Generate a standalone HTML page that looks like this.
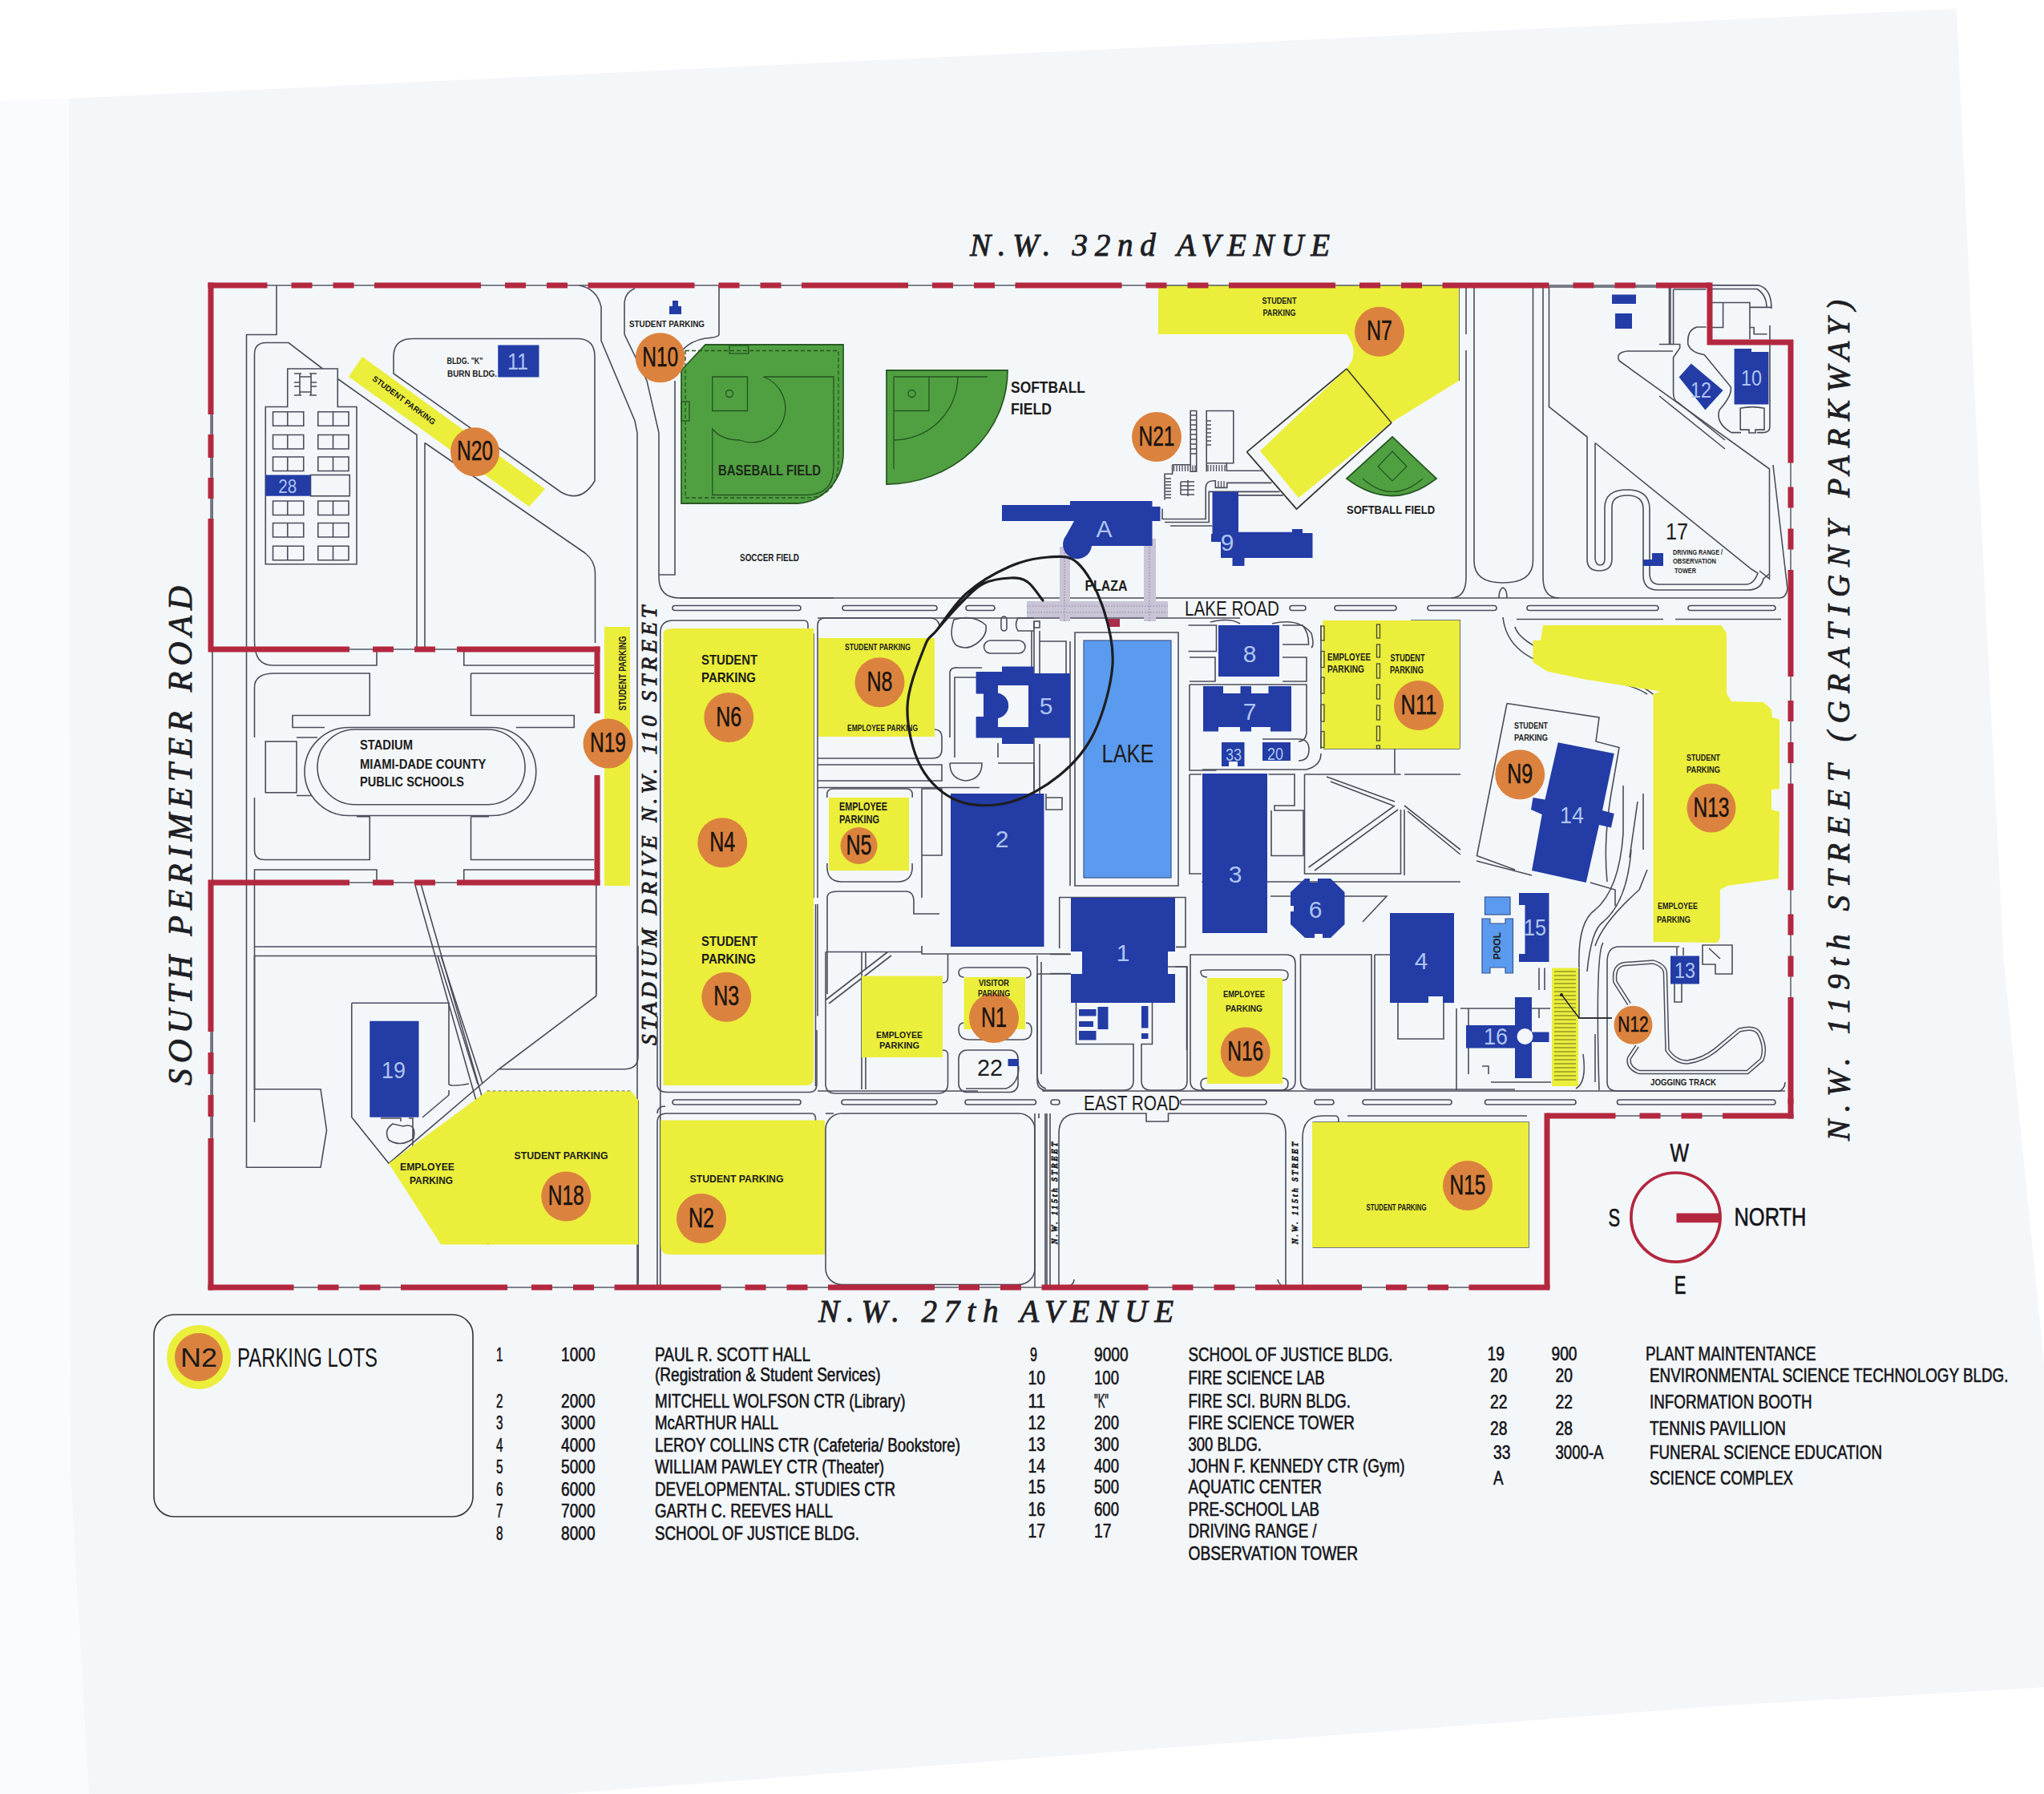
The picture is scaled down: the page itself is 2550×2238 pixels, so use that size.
<!DOCTYPE html>
<html><head><meta charset="utf-8"><style>
html,body{margin:0;padding:0;background:#ffffff;}
svg{display:block;}
text{font-family:"Liberation Sans",sans-serif;}
.ser{font-family:"Liberation Serif",serif;font-weight:normal;font-style:italic;fill:#1e1e24;stroke:#1e1e24;stroke-width:0.9;}
.rd{fill:none;stroke:#4a4d5a;stroke-width:1.6;}
.y{fill:#ebee3a;}
.b{fill:#233ca6;}
.lb{fill:#5b9bef;stroke:#3a5590;stroke-width:1.2;}
.o{fill:#db833e;}
.g{fill:#50a042;stroke:#2a5a25;stroke-width:1.8;}
.bn{fill:#aec4f0;font-size:30px;}
.nl{font-size:32px;fill:#1a1a1a;}
.sm{font-size:11px;font-weight:bold;fill:#2a2a20;}
.lg{font-size:25px;fill:#141418;}
.red{stroke:#b3283f;fill:none;}
</style></head><body>
<svg width="2550" height="2238" viewBox="0 0 2550 2238" xmlns="http://www.w3.org/2000/svg">

<polygon points="0,127 2441,11 2459,400 2500,1200 2550,1700 2550,2105 2150,2128 700,2238 0,2238" fill="#f4f7fa"/>
<polygon points="0,127 86,123 88,1838 111,2238 0,2238" fill="#f9fbfc"/>
<g class="rd">
<path d="M345,356 V417.5 H307.5 V1101"/>
<path d="M317.5,797 V442 Q317.5,427.5 332,427.5 H360 L402.5,460"/>
<path d="M358.75,507.5 V460 H421.25 V507.5 H445 V703.75 H331.25 V507.5 Z"/>
<path d="M421.25,472.5 L520,542.5 V810"/>
<path d="M530,552.5 V810"/>
<path d="M530,552.5 L730,690 Q742.5,700 742.5,715 V802"/>
<path d="M491,466 L700,614 Q725,628 742,600 V445 Q742,422.5 720,422.5 H515 Q491,422.5 491,445 Z"/>
<path d="M722,356 Q745,360 750,383 V425 L792,525 L795,540 V1606"/>
<path d="M792,360 Q779,365 779,380 V417 L807,475 L822,540 V720 Q822,746 848,746 H1040"/>
<path d="M842,475 V717 H822"/>
<path d="M897,356 V417 Q897,421 880,422 Q862,425 851,437"/>
</g>
<path class="rd" stroke-width="1.5" d="M340.5,513.75H378.75V531.25H340.5Z M358.75,513.75V531.25 M396.75,513.75H435V531.25H396.75Z M415.5,513.75V531.25 M340.5,542.5H378.75V560H340.5Z M358.75,542.5V560 M396.75,542.5H435V560H396.75Z M415.5,542.5V560 M340.5,570H378.75V587.5H340.5Z M358.75,570V587.5 M396.75,570H435V587.5H396.75Z M415.5,570V587.5 M340.5,625H378.75V642.5H340.5Z M358.75,625V642.5 M396.75,625H435V642.5H396.75Z M415.5,625V642.5 M340.5,652.5H378.75V670H340.5Z M358.75,652.5V670 M396.75,652.5H435V670H396.75Z M415.5,652.5V670 M340.5,681.25H378.75V698.75H340.5Z M358.75,681.25V698.75 M396.75,681.25H435V698.75H396.75Z M415.5,681.25V698.75"/>
<rect class="rd" x="387.5" y="592.5" width="48.75" height="26.25"/>
<path class="rd" stroke-width="1.4" d="M367,466 H376 M386,466 H395 M374,466 V493 M388,466 V493 M374,470 H388 M374,489 H388 M367,493 H376 M386,493 H395 M367,477 H374 M367,482 H374 M388,477 H395 M388,482 H395"/>
<g class="rd">
<path d="M848,746 H2220"/>
<path d="M1020,771 H1547"/>
<rect x="839" y="755.5" width="160" height="6" rx="3"/>
<rect x="1051" y="755.5" width="118" height="6" rx="3"/>
<rect x="1205" y="755.5" width="36" height="6" rx="3"/>
<rect x="1609" y="755.5" width="20" height="6" rx="3"/>
<rect x="1665" y="755.5" width="77" height="6" rx="3"/>
<rect x="1781" y="755.5" width="86" height="6" rx="3"/>
<rect x="1905" y="755.5" width="164" height="6" rx="3"/>
<rect x="2106" y="755.5" width="109" height="6" rx="3"/>
<path d="M823.75,1606 V790 Q823.75,774 840,774 H1003 Q1008,774 1008,780 V790"/>
<path d="M1015,790 V1120 M1017.5,1128 V1355"/>
<path d="M1020,1120 V780 Q1020,771 1030,771 H1160 Q1170,771 1172,780"/>
<path d="M1020,946 H1163 Q1175,946 1175,935 V920 Q1175,910 1166,910"/>
<path d="M1020,954 H1175 V974 H1020"/>
<path d="M1020,982.5 H1222"/>
<path d="M1032,995 Q1030,984 1040,984 H1130 Q1140,984 1138,995"/>
<path d="M1032,1077 Q1030,1100 1050,1100 H1120 Q1140,1100 1138,1077"/>
<path d="M1032,1240 V1120 Q1032,1112 1045,1112 H1130 Q1140,1112 1140,1125 V1140 H1172"/>
<path d="M1150,1120 V984 H1175 V1067 H1150"/>
<path d="M1190,773 Q1215,766 1230,780 Q1232,793 1218,803 Q1205,812 1193,805 Q1183,795 1190,773 Z"/>
<rect x="1249" y="769" width="7" height="18" rx="3.5"/>
<rect x="1227.5" y="799" width="51.5" height="16" rx="8"/>
<path d="M1290,771 H1270 Q1265,779 1270,787 H1290"/>
<rect x="1290" y="775" width="7" height="8"/>
<path d="M1185,920 V840 Q1185,832 1195,833 H1225"/>
<path d="M1191,945 V845 H1222"/>
<path d="M1185,952 H1225 Q1225,972 1205,974 Q1185,972 1185,952"/>
<path d="M1245,945 V927 M1245,952 H1290 V985"/>
<path d="M1287,787 V845 M1297,787 V845 M1290,775 V1005 M1297,928 V1010 M1305,990 V1010 H1325 V995 H1305"/>
<path d="M1297,800 H1330 V840 M1335,800 V1105"/>
<path d="M1341,789 H1470 V1105 H1341 Z"/>
<path d="M1321.7,1183 V1119.5 H1479 V1181.4 H1467 M1310,1190.5 H1336 M1310,1214.5 H1336 M1457,1206 H1480.5 V1310"/>
<path d="M1482.5,780 H1517.5 V812.5 H1482.5 M1484,820 H1516 V850 H1484 M1600,780 H1625 Q1633,790 1632.5,804 H1600 M1600,820 H1630 V850 H1600"/>
<path d="M1484,854 H1630 V915 Q1628,925 1620,925 M1484,854 V961 H1517.5"/>
<path d="M1575,922 H1620 Q1633,922 1633,935 Q1633,949 1620,949"/>
<path d="M1484,966 H1499 M1484,966 V1090 H1499 M1582.5,966 H1615 V1005 H1590 V1011 H1626 V1067.5 H1586 V1011"/>
<path d="M1510,776 Q1535,770 1547,778 M1587,778 Q1620,770 1636,790 Q1640,805 1636,808"/>
<path d="M1648,780 V934 M1648,940 Q1648,955 1630,960 H1500"/>
<path d="M1651,934 H1821 M1821,774 V934 M1740,934 V965 M1760,774 H1822"/>
<path d="M1627.5,966 V1090 H1747.5 V1010 M1627.5,966 H1747.5 M1752,966 H1822"/>
<path d="M1655,969 L1740,1000 M1660,975 L1738,1005 M1632.5,1082 L1740,1005 M1640,1086 L1744,1010"/>
<path d="M1752,1010 V1092 M1752,1005 L1822,1060 M1756,1012 L1822,1066"/>
<path d="M1499,1100 H1822 M1585,1118 H1730 L1700,1150"/>
</g>
<g fill="#c9c4d6">
<rect x="1281" y="750" width="176" height="20"/>
<rect x="1322" y="682" width="13" height="93"/>
<rect x="1427" y="672" width="15" height="103"/>
</g>
<path stroke="#8d88a8" stroke-width="1.2" stroke-dasharray="1.5,2" fill="none" d="M1281,756 H1457 M1281,764 H1457 M1328,682 V775 M1434,672 V775"/>
<rect x="1382" y="772" width="15" height="10" fill="#a8304a"/>
<g class="rd">
<path d="M265,356 V1606"/>
<path d="M317.5,797 V800 Q317.5,830 340,830 H470 V810 M578.75,810 V830 H741"/>
<path d="M317.5,920 V857.5 Q317.5,840 342.5,840 H461.25 V892.5 H365 V907.5 H405"/>
<path d="M587.5,840 H741 M587.5,840 V892.5 H716.25 V907.5 H643.75"/>
<rect x="380" y="907.5" width="288.75" height="110" rx="55"/>
<rect x="396" y="910" width="259" height="93.75" rx="46.875"/>
<path d="M317.5,995 V1060 Q317.5,1072.5 330,1072.5 H461.25 V1018.75 H445 M587.5,1018.75 V1072.5 H741 M587.5,1018.75 H610"/>
<rect x="331.25" y="925" width="38.75" height="63.75"/>
<path d="M370,920 H396 M370,992.5 H389"/>
<path d="M317.5,1101 V1085 H470 V1101 M578.75,1101 V1085 H741"/>
<path d="M317.5,1101 V1400 M317.5,1181 H743 M317.5,1192.5 H743 M743.75,1101 V1240"/>
<path d="M517.5,1102.5 L596,1380 M525,1102.5 L604,1378"/>
</g>
<g class="rd">
<path d="M307.5,1101 V1456.25 H400 L407.5,1410 L400,1358.75 H317.5 V1192.5"/>
<path d="M546,1192 L596,1352.5 M550,1192 L602,1352"/>
<path d="M743.75,1192 V1242.5 L622.5,1333.75 H780 Q796,1333 796,1318 V1180"/>
<path d="M438.75,1251.25 H560 V1352.5 Q562,1356 585,1352 M438.75,1251.25 V1393.75 L485,1451.25 L622.5,1333.75"/>
<path d="M527,1394 L560,1366 V1360 M503,1405 Q520,1400 516,1420 Q500,1432 485,1422 Q478,1410 490,1402 Z M475,1395 H500 V1399 M510,1395 H515 V1430"/>
<path d="M796.25,1372.5 V1600 Q796,1606 790,1606 M820,1389 Q820,1380 830,1380"/>
<path stroke-dasharray="4,3" d="M607.5,1361.25 H787.5"/>
<path d="M608.75,1361.25 V1552.5"/>
<path d="M820,1267.5 V1352 Q820,1362.5 832,1362.5 H1010 Q1019,1362.5 1019,1352 V1285 M1020,1267.5 V1128"/>
<path d="M820,1606 V1400 Q820,1389 832,1389 H1012 Q1017,1389 1017.5,1395 V1400 Q1015,1406 1012,1406 M820,1468 V1482"/>
<rect x="1030" y="1389" width="261" height="213.5" rx="20"/>
<path d="M1291,1389 V1606 M1296,1389 V1395 M1306,1389 V1606"/>
<path d="M1030,1187.5 H1150 M1030,1187.5 V1352 Q1030,1364 1042,1364 H1170 Q1182.5,1364 1182.5,1352 V1315 Q1182,1310 1176,1310 M1075,1187.5 V1359 M1080,1187.5 V1210 M1080,1319 V1359 M1030,1247.5 L1107.5,1187.5 M1034,1252 L1112,1192 M1182.5,1190 V1220 Q1182,1226 1176,1226 M1150,1180 V1190 H1335"/>
<path d="M1202.5,1219 Q1196,1219 1196,1213 Q1196,1207 1206,1207 H1277 Q1286,1207 1286,1215 Q1286,1219 1280,1220"/>
<path d="M1202.5,1276 Q1196,1276 1196,1284 Q1196,1297 1210,1297 H1275 Q1287,1297 1287,1285 Q1287,1276 1280,1276"/>
<rect x="1196" y="1310" width="74" height="52.5" rx="10"/>
<path d="M1271,1330 Q1271,1352 1255,1358 H1205"/>
<path d="M1294,1192 V1340 Q1294,1355 1305,1358 M1299,1200 V1340"/>
</g>
<g class="rd">
<path d="M1020,1361 H1220 M1300,1361 H2227"/>
<path d="M1040,1389 H1030"/>
<rect x="839" y="1372" width="160" height="6" rx="3"/>
<rect x="1050" y="1372" width="119" height="6" rx="3"/>
<rect x="1204" y="1372" width="88.5" height="6" rx="3"/>
<rect x="1311" y="1372" width="11" height="6" rx="3"/>
<rect x="1472.5" y="1372" width="107.5" height="6" rx="3"/>
<rect x="1640" y="1372" width="24" height="6" rx="3"/>
<rect x="1700" y="1372" width="111" height="6" rx="3"/>
<rect x="1852.5" y="1372" width="113.5" height="6" rx="3"/>
<rect x="2017.5" y="1372" width="197.5" height="6" rx="3"/>
<path d="M1294,1215 V1348 Q1294,1360 1306,1360 H1402 Q1414,1360 1414,1348 V1302.5 H1342.5 V1251 M1437.5,1251 V1302.5 H1424 V1348 Q1424,1360 1436,1360 H1470 Q1481,1360 1481,1348 V1206 H1466"/>
<path d="M1294,1215 H1336"/>
<path d="M1485,1191 H1605 Q1616,1191 1616,1202 V1348 Q1616,1360 1604,1360 H1497 Q1485,1360 1485,1348 Z"/>
<path d="M1506,1219 Q1498,1219 1498,1212 Q1498,1210 1506,1210 H1598 Q1607,1210 1607,1216 Q1607,1223 1600,1223"/>
<path d="M1506,1345 Q1498,1345 1498,1352 Q1498,1360 1506,1360 H1598 Q1607,1360 1607,1352 Q1607,1345 1600,1345"/>
<path d="M1622.5,1191 H1711 V1359 H1634 Q1622.5,1359 1622.5,1347 Z M1715,1191 H1734 M1715,1191 V1359 H1890"/>
<path d="M1744,1251 V1296 H1801 V1251"/>
<path d="M1321,1605 V1414 Q1321,1389 1346,1389 H1430 V1399 H1457.5 V1389 H1579 Q1604,1389 1604,1414 V1605"/>
<path d="M1304,1389 V1606 M1310,1389 V1606 M1625,1605 V1420 Q1625,1392 1650,1392 H1665 Q1670,1392 1670,1397 Q1670,1402 1665,1402 M1681,1392 H1905 M1340,1596 Q1340,1603 1330,1606 M1594,1596 Q1595,1603 1604,1606"/>
<path d="M1637.5,1400 H1907 V1556 H1637.5"/>
</g>
<text class="ser" transform="translate(1319,1552) rotate(-90)" font-size="10" textLength="127" lengthAdjust="spacing">N.W. 115th STREET</text>
<text class="ser" transform="translate(1619,1552) rotate(-90)" font-size="10" textLength="127" lengthAdjust="spacing">N.W. 115th STREET</text>
<g class="rd">
<path d="M1817,1258 V1360 M1822,1258 H1934 M1832,1258 V1340 M1920,1270 V1258 M1849,1330 H1857 V1340 M1860,1350 H1935"/>
<path d="M1920,1207.5 V1235 M1927,1207.5 V1235 M1970,1207.5 V1270 H2011"/>
<path d="M1975,1315 Q1980,1350 1966,1358 M1990,1290 V1350"/>
<path d="M2005,1200 Q2005,1181 2020,1181 H2095 M2005,1200 V1350 Q2005,1361 2018,1361 H2220 Q2227,1358 2227,1350"/>
<path d="M2000,1176 Q1990,1190 1995,1360"/>
<path d="M2124,1179 H2161 V1215 H2140 V1203 H2124 Z M2132,1183 L2146,1196"/>
<path d="M2089,1227 V1250 H2098 V1227 M2092,1182 V1192 M2100,1182 V1192"/>
</g>
<path fill="none" stroke="#4a4d5a" stroke-width="5.5" d="M2032.5,1252.5 L2015,1225 Q2012,1204 2027.5,1202.5 L2062.5,1200 Q2078,1205 2077.5,1215 L2080,1310 Q2090,1325 2105,1325 Q2125,1322 2140,1310 L2170,1285 Q2190,1280 2195,1290 Q2204,1308 2198,1322 L2180,1337.5 H2045 Q2030,1332 2032.5,1320 L2042.5,1305"/>
<path fill="none" stroke="#f2f6fa" stroke-width="2.5" d="M2032.5,1252.5 L2015,1225 Q2012,1204 2027.5,1202.5 L2062.5,1200 Q2078,1205 2077.5,1215 L2080,1310 Q2090,1325 2105,1325 Q2125,1322 2140,1310 L2170,1285 Q2190,1280 2195,1290 Q2204,1308 2198,1322 L2180,1337.5 H2045 Q2030,1332 2032.5,1320 L2042.5,1305"/>
<g class="rd">
<path d="M1970,1207 Q1968,1150 1990,1135 Q2020,1110 2025,1040 V980 M1980,1212 Q1985,1160 2000,1150 Q2030,1125 2035,1060 M1990,1180 Q2000,1150 2045,1110 L2055,1085"/>
<path d="M2062.5,866 Q2040,850 2020,838 L1940,818 Q1895,800 1890,782 M2055,866 Q2040,855 1975,840 L1935,830 Q1880,815 1875,770 M2050,990 V1060 M2043,1000 L2033,1070"/>
<path d="M1880,877.5 L1995,895 L1991,925 L2020,932.5 L2010,990 Q2000,1050 2005,1100 M1880,877.5 L1842.5,1067.5 L1890,1085 M1842,1074 L1911,1092 M1984,1101 L2015,1110 V1130"/>
</g>
<g class="rd">
<path d="M1829,356 V417 M1829,437 V720 Q1829,746 1810,746 M1839,358 V700 Q1839,727 1875,727 Q1912,727 1912.5,700 V358 M1925,358 V720 Q1925,746 1945,746"/>
<path d="M1870,746 Q1870,735 1875,733 Q1880,735 1880,746"/>
<path d="M1932.5,358 H2082.5 V430 M1932.5,358 V507.5 L1980,545 V697.5 Q1980,712 1995,712 Q2011,712 2011,697 V632.5 Q2011,618 2030,618 Q2050,618 2050,635 V717.5 Q2050,736 2068,736 H2180 Q2197,736 2200,722 L2207,716"/>
<path d="M1990,552.5 V697 Q1991,705 1996,705 Q2002,705 2002,697 V632 Q2003,611 2030,611 Q2058,611 2058,635 V715 Q2058,729 2070,729 H2178 Q2188,729 2193,715 L2185,710 L1990,552.5"/>
<path d="M2020,450 Q2015,440 2030,438 H2087 M2020,450 L2207.5,585 V722 L2195,712"/>
<path d="M2212,580 L2230,735 Q2228,746 2220,746"/>
<path d="M2084,358 V429.5 M2087.6,361 V429.5 M2087.6,361 H2128.5 M2135.5,355.9 H2194 Q2210,360 2210,385 M2135.5,360.5 H2192 Q2204,368 2204,384 M2135.5,377.5 H2183 V383.4 H2209.3 M2149.6,377.5 V408.5 H2135.5 M2183,383.4 V423 M2183,408.5 H2188.2 V416.7 H2204.6 M2208,406 V532 Q2208,539.6 2200,539.6 H2192 M2128.5,408 H2116.8 Q2104,412 2106,430 Q2110,440 2126.2,442.5 L2159,482.3 Q2162,492 2145,511.5 Q2140,528 2160,539.6 H2172"/>
<path d="M2070,429.5 H2095.7 V434 L2087.6,446 V490.5 Q2088,500 2093.4,502 L2152,549 M2070,494 L2152,560"/>
<path d="M2171.2,536.1 V509.2 Q2186,506 2201,509.2 V536.1 H2190 V540 H2182 V536.1 Z M1892,772.5 H2075 M2090,772.5 H2222"/>
<path d="M1555.5,563.75 L1680,460 M1555.5,563.75 L1617.5,635 L1736,527.5 M1680,460 L1736,527.5 M1820,356 V475"/>
</g>
<path class="g" d="M1737,545 L1792,597 Q1737,640 1680,597 Z"/>
<path fill="none" stroke="#24531f" stroke-width="1.2" d="M1737,563 L1755,582 L1737,600 L1719,582 Z M1700,597 Q1737,630 1775,597"/>
<g class="rd">
<path d="M1485.2,512.5 H1492.7 V588.3 H1485.2 Z M1505.2,588.3 V512.5 H1538.8 V577.8 H1505.2 M1530.3,577.8 V587.3 H1574.5 M1462.6,579.8 H1485.2 M1462.6,579.8 V591.3 H1453 V623.4 M1450,634.5 V647.5 H1504.2 V609 Q1504.2,599.8 1514,599.8 H1516.3 V608.4 H1530.8 V602.4 H1586.5 M1453,651.5 H1508.2 V613.4 H1596.5 M1460,656 H1512.3 M1544.4,617.9 H1600.6"/>
<path stroke-width="1.3" d="M1464.5,580.5V588M1468.0,580.5V588M1471.5,580.5V588M1475.0,580.5V588M1478.5,580.5V588M1482.0,580.5V588M1488.0,580.5V588M1491.0,580.5V588M1507.0,580V588M1510.5,580V588M1514.0,580V588M1517.5,580V588M1521.0,580V588M1524.5,580V588M1528.0,580V588M1454,597H1461M1454,601H1461M1454,605H1461M1454,609H1461M1454,613H1461M1454,617H1461M1454,621H1461M1506,525H1511M1506,530H1511M1506,535H1511M1506,540H1511M1506,545H1511M1506,550H1511M1506,555H1511M1520,600V608M1523.5,600V608M1527,600V608M1486,518H1492M1486,524H1492M1486,530H1492M1486,536H1492M1486,542H1492M1486,548H1492M1486,554H1492M1486,560H1492M1486,566H1492"/>
<path stroke-width="1.5" d="M1473,601 H1490 M1473,606 H1490 M1473,611 H1490 M1473,617 H1490 M1482,599 V619 M1473,601 V617"/>
</g>
<g id="lots">
<path class="y" d="M827.5,790 Q827.5,784 840,784 H1015 V1345 Q1015,1354 1005,1354 H827.5 Z"/>
<rect class="y" x="1021" y="796" width="145" height="123"/>
<rect class="y" x="1034" y="995" width="100" height="91"/>
<rect class="y" x="754" y="782" width="32" height="323"/>
<polygon class="y" points="452,445 680,610 660,632 435,470"/>
<path class="y" d="M1445,356 H1820 V475 L1736,527 L1620,621 L1572,562.5 L1680,460 Q1697,440 1680,417 H1445 Z"/>
<rect class="y" x="1650" y="774" width="171" height="160"/>
<polygon class="y" points="1912.5,799 1922,799 1925,780 2147.5,780 2154,790 2154,865 2160,875 2200,876 2210,885 2211,895 2220,897.5 2220,984 2210,985 2210,1010 2220,1012.5 2219,1096 2155,1105 2146,1110 2146,1170 2142.5,1176 2062.5,1175 2062.5,866 2071,862.5 1977.5,847.5 1930,837.5 1912.5,826"/>
<rect class="y" x="1202.5" y="1219" width="76.5" height="65"/>
<rect class="y" x="1075" y="1217.5" width="101" height="101.5"/>
<rect class="y" x="1506" y="1220" width="94" height="132"/>
<polygon class="y" points="485,1451.25 607.5,1361.25 787.5,1361.25 796.25,1372.5 796.25,1552.5 550,1552.5"/>
<path class="y" d="M824,1397.5 H1029 V1565 H835 Q824,1565 824,1552 Z"/>
<rect class="y" x="1637" y="1400" width="270" height="156"/>
<rect class="y" x="1936" y="1207.5" width="33" height="147.5"/>
</g>
<path class="g" d="M850,462 L880,430 H1052 V565 A60 63 0 0 1 995,628 H850 Z"/>
<path class="g" d="M1106,462 H1257 A151 142 0 0 1 1106,604 Z"/>
<g id="bldg">
<rect class="b" x="1186" y="990" width="116.5" height="191"/>
<rect class="b" x="1500" y="965" width="81" height="199"/>
<path class="b" d="M1336,1120 H1466 V1187 H1457 V1215 H1466 V1251 H1336 V1215 H1350 V1187 H1336 Z"/>
<path class="b" d="M1346,1259 h21.5 v8.5 h-21.5z M1346,1274 h18 v7 h-18z M1346,1286 h21.5 v11.5 h-21.5z M1369.5,1256 h13 v28 h-13z M1424,1255 h8.5 v27.5 h-8.5z M1424,1289 h8.5 v7 h-8.5z"/>
<path class="b" d="M1734,1139 H1814 V1251 H1800 V1243 H1782 V1251 H1734 Z"/>
<rect class="b" x="1520" y="780" width="76" height="64"/>
<path class="b" d="M1501,856 H1526 V865 H1547.5 V856 H1561 V865 H1582.5 V856 H1611 V912.5 H1585 V907 H1561 V912.5 H1547 V907 H1520 V912.5 H1501 Z"/>
<path class="b" d="M1524,926 H1552.5 V956 H1544 V950 H1533 V956 H1524 Z"/>
<rect class="b" x="1575" y="926" width="35" height="23"/>
<path class="b" d="M1217.6,838 H1250 V831.6 H1289.6 V840 H1335 V920.6 H1289.6 V928 H1250 V920.6 H1217.6 V894 H1227 V865.5 H1217.6 Z M1245,855 V864.5 A16,16 0 0 1 1245,896 V907 H1283 V855 Z"/>
<path class="b" d="M1895,1114 H1932.5 V1200 H1895 V1190 H1902.5 V1129 H1895 Z"/>
<path class="b" d="M2163.6,434.9 H2185 V439 H2206.4 V504.5 H2163.6 Z"/>
<rect class="b" x="2084" y="1192.5" width="36" height="35"/>
<rect class="b" x="461.25" y="1273.75" width="61.25" height="120"/>
<rect class="b" x="621.25" y="430.5" width="51.25" height="40"/>
<rect class="b" x="331.25" y="592.5" width="56.25" height="26.25"/>
<polygon class="b" points="1943.75,926.25 2013.75,940 1999,1011 2013.75,1015 2010,1032.5 1995,1029 1978.75,1101 1911,1086 1923.75,1016 1910,1010 1912.5,995 1927.5,997.5"/>
<path class="b" d="M1628,1096 H1634 V1101 H1644 V1096 H1660 L1677.5,1113 V1153 L1660,1170 H1650 V1165 H1640 V1170 H1628 L1610,1153 V1137 H1614 V1130 H1610 V1113 Z"/>
<path class="b" d="M1890,1244 H1911 V1287.5 H1932.5 V1300 H1911 V1345 H1890 V1307.5 H1829 V1279 H1890 Z"/>
<circle cx="1902.5" cy="1293" r="10" fill="#f2f6fa"/>
<polygon class="b" points="2094.6,470.6 2109.8,453.6 2149.6,486.9 2127.4,511.5"/>
<path class="b" d="M1250,630 H1335 V625 H1437.5 V632 H1447.5 V650 H1437.5 V681 H1362 A18,18 0 1 1 1330,668 L1340,650 H1250 Z"/>
<path class="b" d="M1512.5,613.5 H1545 V663.75 H1612 V660 H1625 V665 H1637.5 V696 H1552.5 V706 H1537.5 V696 H1523 V676 H1511 V666 H1512.5 Z"/>
<path class="b" d="M2011,367.5 h30 v11.5 h-30z M2015,391 h21 v19 h-21z M2050,698 h11 v-8 h14 v16 h-25z M1257.5,1321 h13.5 v9 h-13.5z M835,382 h15 v10 h-15z M839,375 h7 v8 h-7z"/>
</g>
<rect class="lb" x="1352" y="799" width="109" height="296"/>
<rect class="lb" x="1852.5" y="1119" width="31.5" height="22"/>
<path class="lb" d="M1849,1146 H1859 V1152 H1878 V1146 H1887.5 V1214 H1878 V1207 H1859 V1214 H1849 Z"/>
<g id="border">
<line x1="259.5" y1="356" x2="2133" y2="356" stroke="#555a66" stroke-width="1.5"/>
<path d="M259.5 356H333.5M363.5 356H389.5M415.5 356H441.5M467.0 356H600.0M630.0 356H656.0M682.0 356H708.0M733.5 356H866.5M896.5 356H922.5M948.5 356H974.5M1000.0 356H1133.0M1163.0 356H1189.0M1215.0 356H1241.0M1266.5 356H1399.5M1429.5 356H1455.5M1481.5 356H1507.5M1533.0 356H1666.0M1696.0 356H1722.0M1748.0 356H1774.0M1799.5 356H1932.5M1962.5 356H1988.5M2014.5 356H2040.5M2066.0 356H2133.0" stroke="#b3283f" stroke-width="7" fill="none"/>
<path class="red" stroke-width="7" d="M2133,352.5 V427 H2234 V576"/>
<line x1="2234" y1="576" x2="2234" y2="1392" stroke="#555a66" stroke-width="1.5"/>
<path d="M2234 576.0V577.5M2234 607.5V633.5M2234 659.5V685.5M2234 711.0V844.0M2234 874.0V900.0M2234 926.0V952.0M2234 977.5V1110.5M2234 1140.5V1166.5M2234 1192.5V1218.5M2234 1244.0V1377.0" stroke="#b3283f" stroke-width="7" fill="none"/>
<path class="red" stroke-width="7" d="M2234,1370 V1395.5"/>
<line x1="1930" y1="1392" x2="2237.5" y2="1392" stroke="#555a66" stroke-width="1.5"/>
<path d="M1930.0 1392H2015.5M2045.5 1392H2071.5M2097.5 1392H2123.5M2149.0 1392H2237.5" stroke="#b3283f" stroke-width="7" fill="none"/>
<path class="red" stroke-width="7" d="M1930,1388.5 V1606"/>
<line x1="259.5" y1="1606" x2="1933.5" y2="1606" stroke="#555a66" stroke-width="1.5"/>
<path d="M259.5 1606H366.5M396.5 1606H422.5M448.5 1606H474.5M500.0 1606H633.0M663.0 1606H689.0M715.0 1606H741.0M766.5 1606H899.5M929.5 1606H955.5M981.5 1606H1007.5M1033.0 1606H1166.0M1196.0 1606H1222.0M1248.0 1606H1274.0M1299.5 1606H1432.5M1462.5 1606H1488.5M1514.5 1606H1540.5M1566.0 1606H1699.0M1729.0 1606H1755.0M1781.0 1606H1807.0M1832.5 1606H1933.5" stroke="#b3283f" stroke-width="7" fill="none"/>
<line x1="263" y1="356" x2="263" y2="810" stroke="#555a66" stroke-width="1.5"/>
<path stroke="#b3283f" stroke-width="7" fill="none" d="M263 352.5V517M263 542V571M263 596V622M263 647V813.5"/>
<line x1="263" y1="1101" x2="263" y2="1606" stroke="#555a66" stroke-width="1.5"/>
<path stroke="#b3283f" stroke-width="7" fill="none" d="M263 1097.5V1287M263 1313V1340M263 1366V1393M263 1420V1609.5"/>
<line x1="263" y1="810" x2="745" y2="810" stroke="#555a66" stroke-width="1.5"/>
<path stroke="#b3283f" stroke-width="7" fill="none" d="M263 810H436M465 810H491M517 810H543M570 810H748.5"/>
<line x1="263" y1="1101" x2="745" y2="1101" stroke="#555a66" stroke-width="1.5"/>
<path stroke="#b3283f" stroke-width="7" fill="none" d="M263 1101H436M465 1101H491M517 1101H543M570 1101H748.5"/>
<path class="red" stroke-width="7" d="M745,806.5 V890 M745,967 V1104.5"/>
</g>
<g id="circles">
<circle class="o" cx="592.5" cy="563.75" r="30.5"/>
<text x="592.5" y="574.4" font-size="35" text-anchor="middle" fill="#1b1410" stroke="#1b1410" stroke-width="0.5" textLength="45" lengthAdjust="spacingAndGlyphs">N20</text>
<circle class="o" cx="823.75" cy="446.25" r="31"/>
<text x="823.75" y="456.9" font-size="35" text-anchor="middle" fill="#1b1410" stroke="#1b1410" stroke-width="0.5" textLength="45" lengthAdjust="spacingAndGlyphs">N10</text>
<circle class="o" cx="1443" cy="545" r="31"/>
<text x="1443" y="555.7" font-size="35" text-anchor="middle" fill="#1b1410" stroke="#1b1410" stroke-width="0.5" textLength="45" lengthAdjust="spacingAndGlyphs">N21</text>
<circle class="o" cx="1721" cy="413.75" r="31"/>
<text x="1721" y="424.4" font-size="35" text-anchor="middle" fill="#1b1410" stroke="#1b1410" stroke-width="0.5" textLength="32" lengthAdjust="spacingAndGlyphs">N7</text>
<circle class="o" cx="1097.5" cy="851.25" r="31"/>
<text x="1097.5" y="861.9" font-size="35" text-anchor="middle" fill="#1b1410" stroke="#1b1410" stroke-width="0.5" textLength="32" lengthAdjust="spacingAndGlyphs">N8</text>
<circle class="o" cx="909.25" cy="895" r="31"/>
<text x="909.25" y="905.7" font-size="35" text-anchor="middle" fill="#1b1410" stroke="#1b1410" stroke-width="0.5" textLength="32" lengthAdjust="spacingAndGlyphs">N6</text>
<circle class="o" cx="758.5" cy="927.5" r="31"/>
<text x="758.5" y="938.2" font-size="35" text-anchor="middle" fill="#1b1410" stroke="#1b1410" stroke-width="0.5" textLength="45" lengthAdjust="spacingAndGlyphs">N19</text>
<circle class="o" cx="901.25" cy="1051.25" r="31"/>
<text x="901.25" y="1061.9" font-size="35" text-anchor="middle" fill="#1b1410" stroke="#1b1410" stroke-width="0.5" textLength="32" lengthAdjust="spacingAndGlyphs">N4</text>
<circle class="o" cx="1071.5" cy="1055" r="23"/>
<text x="1071.5" y="1065.7" font-size="35" text-anchor="middle" fill="#1b1410" stroke="#1b1410" stroke-width="0.5" textLength="32" lengthAdjust="spacingAndGlyphs">N5</text>
<circle class="o" cx="906.25" cy="1243.75" r="31"/>
<text x="906.25" y="1254.4" font-size="35" text-anchor="middle" fill="#1b1410" stroke="#1b1410" stroke-width="0.5" textLength="32" lengthAdjust="spacingAndGlyphs">N3</text>
<circle class="o" cx="1240" cy="1270" r="31"/>
<text x="1240" y="1280.7" font-size="35" text-anchor="middle" fill="#1b1410" stroke="#1b1410" stroke-width="0.5" textLength="32" lengthAdjust="spacingAndGlyphs">N1</text>
<circle class="o" cx="1770" cy="880" r="31"/>
<text x="1770" y="890.7" font-size="35" text-anchor="middle" fill="#1b1410" stroke="#1b1410" stroke-width="0.5" textLength="45" lengthAdjust="spacingAndGlyphs">N11</text>
<circle class="o" cx="1896.25" cy="966.25" r="31"/>
<text x="1896.25" y="976.9" font-size="35" text-anchor="middle" fill="#1b1410" stroke="#1b1410" stroke-width="0.5" textLength="32" lengthAdjust="spacingAndGlyphs">N9</text>
<circle class="o" cx="2135" cy="1008" r="30.5"/>
<text x="2135" y="1018.7" font-size="35" text-anchor="middle" fill="#1b1410" stroke="#1b1410" stroke-width="0.5" textLength="45" lengthAdjust="spacingAndGlyphs">N13</text>
<circle class="o" cx="1553.75" cy="1312.5" r="31"/>
<text x="1553.75" y="1323.2" font-size="35" text-anchor="middle" fill="#1b1410" stroke="#1b1410" stroke-width="0.5" textLength="45" lengthAdjust="spacingAndGlyphs">N16</text>
<circle class="o" cx="2037.5" cy="1278.75" r="24"/>
<text x="2037.5" y="1287.0" font-size="27" text-anchor="middle" fill="#1b1410" stroke="#1b1410" stroke-width="0.5" textLength="38.5" lengthAdjust="spacingAndGlyphs">N12</text>
<circle class="o" cx="706.25" cy="1492.5" r="31"/>
<text x="706.25" y="1503.2" font-size="35" text-anchor="middle" fill="#1b1410" stroke="#1b1410" stroke-width="0.5" textLength="45" lengthAdjust="spacingAndGlyphs">N18</text>
<circle class="o" cx="875" cy="1520" r="31"/>
<text x="875" y="1530.7" font-size="35" text-anchor="middle" fill="#1b1410" stroke="#1b1410" stroke-width="0.5" textLength="32" lengthAdjust="spacingAndGlyphs">N2</text>
<circle class="o" cx="1831" cy="1479" r="31"/>
<text x="1831" y="1489.7" font-size="35" text-anchor="middle" fill="#1b1410" stroke="#1b1410" stroke-width="0.5" textLength="45" lengthAdjust="spacingAndGlyphs">N15</text>
</g>
<text class="ser" x="1210" y="319" font-size="39" textLength="449" lengthAdjust="spacing">N.W. 32nd AVENUE</text>
<text class="ser" x="1021" y="1649" font-size="39" textLength="443" lengthAdjust="spacing">N.W. 27th AVENUE</text>
<text class="ser" transform="translate(239,1354) rotate(-90)" x="0" y="0" font-size="41.5" textLength="623" lengthAdjust="spacing">SOUTH PERIMETER ROAD</text>
<text class="ser" transform="translate(2307,1423) rotate(-90)" x="0" y="0" font-size="39" textLength="1049" lengthAdjust="spacing">N.W. 119th STREET (GRATIGNY PARKWAY)</text>
<rect x="192" y="1640" width="398" height="252" rx="25" fill="none" stroke="#333" stroke-width="1.6"/>
<circle cx="248" cy="1693" r="40" fill="#ebee3a"/>
<circle cx="248" cy="1693" r="30" fill="#db833e"/>
<text x="248" y="1705" font-size="33" text-anchor="middle" fill="#1b1b1b" textLength="46" lengthAdjust="spacingAndGlyphs">N2</text>
<text x="296" y="1705" font-size="33" fill="#141418" textLength="175" lengthAdjust="spacingAndGlyphs">PARKING LOTS</text>
<g fill="none" stroke="#24531f" stroke-width="1.3">
<path stroke-dasharray="5,3" d="M855,437.5 H1046 V575 Q1046,621 1005,621 H855 Z"/>
<path d="M888.75,470 H932.5 V512.5 H888.75 Z"/>
<circle cx="910" cy="491" r="4.5"/>
<path d="M952.5,470 A42 42 0 0 1 922.5,549 Q900,549 888.75,535 V617.5 H1005 Q1040,617.5 1040,582.5 V470 H952.5"/>
<rect x="910" y="431" width="23.75" height="10"/>
<rect x="850" y="501" width="10" height="24"/>
<path d="M1115,470 H1232 M1115,470 V585 M1115,470 H1159 V512.5 H1115 M1195,470 A80 80 0 0 1 1115,549"/>
<circle cx="1137.5" cy="491" r="4.5"/>
</g>
<path stroke="#6b6a20" stroke-width="1.2" d="M1939,1212H1966M1939,1217H1966M1939,1222H1966M1939,1227H1966M1939,1232H1966M1939,1237H1966M1939,1242H1966M1939,1247H1966M1939,1252H1966M1939,1257H1966M1939,1262H1966M1939,1267H1966M1939,1272H1966M1939,1277H1966M1939,1282H1966M1939,1287H1966M1939,1292H1966M1939,1297H1966M1939,1302H1966M1939,1307H1966M1939,1312H1966M1939,1317H1966M1939,1322H1966M1939,1327H1966M1939,1332H1966M1939,1337H1966M1939,1342H1966M1939,1347H1966"/>
<path stroke="#222" stroke-width="1.5" fill="none" d="M1947.5,1240 L1970,1270 H2011"/>
<circle cx="1948" cy="1241" r="2" fill="#222"/>
<path fill="none" stroke="#3c3c34" stroke-width="1.6" d="M1680,460 L1736,527.5 M1555.5,563.75 L1680,460 M1555.5,563.75 L1617.5,635 L1736,527.5"/>
<g fill="none" stroke="#4a4a3a" stroke-width="1.3">
<rect x="1648" y="781" width="4" height="18"/>
<rect x="1648" y="812.5" width="4" height="20.0"/>
<rect x="1648" y="845" width="4" height="20"/>
<rect x="1648" y="879" width="4" height="21"/>
<rect x="1648" y="912.5" width="4" height="20.0"/>
<rect x="1717.5" y="779" width="4" height="17"/>
<rect x="1717.5" y="804" width="4" height="16"/>
<rect x="1717.5" y="828" width="4" height="18"/>
<rect x="1717.5" y="854" width="4" height="18"/>
<rect x="1717.5" y="880" width="4" height="18"/>
<rect x="1717.5" y="906" width="4" height="18"/>
<rect x="1717.5" y="930" width="4" height="4"/>
</g>
<text x="1401" y="1199" font-size="30" text-anchor="middle" fill="#aec4f0">1</text>
<text x="1250" y="1057" font-size="30" text-anchor="middle" fill="#aec4f0">2</text>
<text x="1541" y="1101" font-size="30" text-anchor="middle" fill="#aec4f0">3</text>
<text x="1773" y="1209" font-size="30" text-anchor="middle" fill="#aec4f0">4</text>
<text x="1305" y="891" font-size="30" text-anchor="middle" fill="#aec4f0">5</text>
<text x="1641" y="1145" font-size="30" text-anchor="middle" fill="#aec4f0">6</text>
<text x="1559" y="898" font-size="30" text-anchor="middle" fill="#aec4f0">7</text>
<text x="1559" y="826" font-size="30" text-anchor="middle" fill="#aec4f0">8</text>
<text x="1531" y="687" font-size="30" text-anchor="middle" fill="#aec4f0">9</text>
<text x="2185" y="481" font-size="28" text-anchor="middle" fill="#aec4f0" textLength="26" lengthAdjust="spacingAndGlyphs">10</text>
<text x="646" y="461" font-size="29" text-anchor="middle" fill="#aec4f0" textLength="26" lengthAdjust="spacingAndGlyphs">11</text>
<text x="2122" y="496" font-size="28" text-anchor="middle" fill="#aec4f0" textLength="26" lengthAdjust="spacingAndGlyphs">12</text>
<text x="2102" y="1220" font-size="28" text-anchor="middle" fill="#aec4f0" textLength="26" lengthAdjust="spacingAndGlyphs">13</text>
<text x="1961" y="1027" font-size="30" text-anchor="middle" fill="#aec4f0" textLength="30" lengthAdjust="spacingAndGlyphs">14</text>
<text x="1915" y="1167" font-size="30" text-anchor="middle" fill="#aec4f0" textLength="28" lengthAdjust="spacingAndGlyphs">15</text>
<text x="1866" y="1303" font-size="30" text-anchor="middle" fill="#aec4f0" textLength="30" lengthAdjust="spacingAndGlyphs">16</text>
<text x="491" y="1345" font-size="30" text-anchor="middle" fill="#aec4f0" textLength="30" lengthAdjust="spacingAndGlyphs">19</text>
<text x="1591" y="948" font-size="22" text-anchor="middle" fill="#aec4f0" textLength="20" lengthAdjust="spacingAndGlyphs">20</text>
<text x="1539" y="949" font-size="22" text-anchor="middle" fill="#aec4f0" textLength="20" lengthAdjust="spacingAndGlyphs">33</text>
<text x="358.75" y="614.5" font-size="24" text-anchor="middle" fill="#aec4f0" textLength="23" lengthAdjust="spacingAndGlyphs">28</text>
<text x="1377.5" y="670" font-size="30" text-anchor="middle" fill="#aec4f0">A</text>
<text x="1407" y="951" font-size="31" text-anchor="middle" fill="#1c1c1c" textLength="65" lengthAdjust="spacingAndGlyphs">LAKE</text>
<text x="1537" y="768" font-size="26" text-anchor="middle" fill="#1c1c1c" textLength="118" lengthAdjust="spacingAndGlyphs">LAKE ROAD</text>
<text x="1412" y="1385" font-size="26" text-anchor="middle" fill="#1c1c1c" textLength="120" lengthAdjust="spacingAndGlyphs">EAST ROAD</text>
<text x="1380" y="737" font-size="18" text-anchor="middle" fill="#1c1c1c" font-weight="bold" textLength="53" lengthAdjust="spacingAndGlyphs">PLAZA</text>
<text x="1261" y="490" font-size="21" text-anchor="start" fill="#1c1c1c" font-weight="bold" textLength="93" lengthAdjust="spacingAndGlyphs">SOFTBALL</text>
<text x="1261" y="517" font-size="21" text-anchor="start" fill="#1c1c1c" font-weight="bold" textLength="51" lengthAdjust="spacingAndGlyphs">FIELD</text>
<text x="1735" y="641" font-size="14" text-anchor="middle" fill="#1c1c1c" font-weight="bold" textLength="110" lengthAdjust="spacingAndGlyphs">SOFTBALL FIELD</text>
<text x="960" y="593" font-size="19" text-anchor="middle" fill="#1d2a1a" font-weight="bold" textLength="128" lengthAdjust="spacingAndGlyphs">BASEBALL FIELD</text>
<text x="960" y="700" font-size="12" text-anchor="middle" fill="#1c1c1c" font-weight="bold" textLength="74" lengthAdjust="spacingAndGlyphs">SOCCER FIELD</text>
<text x="832" y="408" font-size="11" text-anchor="middle" fill="#1c1c1c" font-weight="bold" textLength="94" lengthAdjust="spacingAndGlyphs">STUDENT PARKING</text>
<text x="580" y="454" font-size="10.5" text-anchor="middle" fill="#1c1c1c" font-weight="bold" textLength="45" lengthAdjust="spacingAndGlyphs">BLDG. "K"</text>
<text x="589" y="470" font-size="10.5" text-anchor="middle" fill="#1c1c1c" font-weight="bold" textLength="62" lengthAdjust="spacingAndGlyphs">BURN BLDG.</text>
<text x="502" y="502" font-size="10" text-anchor="middle" fill="#1c1c1c" font-weight="bold" textLength="95" lengthAdjust="spacingAndGlyphs" transform="rotate(36.5 502 502)">STUDENT PARKING</text>
<text x="1596" y="379" font-size="10" text-anchor="middle" fill="#1c1c1c" font-weight="bold" textLength="43" lengthAdjust="spacingAndGlyphs">STUDENT</text>
<text x="1596" y="394" font-size="10" text-anchor="middle" fill="#1c1c1c" font-weight="bold" textLength="41" lengthAdjust="spacingAndGlyphs">PARKING</text>
<text x="1095" y="811" font-size="10" text-anchor="middle" fill="#1c1c1c" font-weight="bold" textLength="82" lengthAdjust="spacingAndGlyphs">STUDENT PARKING</text>
<text x="1101" y="912" font-size="10" text-anchor="middle" fill="#1c1c1c" font-weight="bold" textLength="88" lengthAdjust="spacingAndGlyphs">EMPLOYEE PARKING</text>
<text x="910" y="829" font-size="17" text-anchor="middle" fill="#1c1c1c" font-weight="bold" textLength="70" lengthAdjust="spacingAndGlyphs">STUDENT</text>
<text x="909" y="851" font-size="17" text-anchor="middle" fill="#1c1c1c" font-weight="bold" textLength="68" lengthAdjust="spacingAndGlyphs">PARKING</text>
<text x="910" y="1180" font-size="17" text-anchor="middle" fill="#1c1c1c" font-weight="bold" textLength="70" lengthAdjust="spacingAndGlyphs">STUDENT</text>
<text x="909" y="1202" font-size="17" text-anchor="middle" fill="#1c1c1c" font-weight="bold" textLength="68" lengthAdjust="spacingAndGlyphs">PARKING</text>
<text x="1077" y="1011" font-size="15" text-anchor="middle" fill="#1c1c1c" font-weight="bold" textLength="60" lengthAdjust="spacingAndGlyphs">EMPLOYEE</text>
<text x="1072" y="1027" font-size="15" text-anchor="middle" fill="#1c1c1c" font-weight="bold" textLength="50" lengthAdjust="spacingAndGlyphs">PARKING</text>
<text x="1683" y="824" font-size="12" text-anchor="middle" fill="#1c1c1c" font-weight="bold" textLength="54" lengthAdjust="spacingAndGlyphs">EMPLOYEE</text>
<text x="1679" y="839" font-size="12" text-anchor="middle" fill="#1c1c1c" font-weight="bold" textLength="46" lengthAdjust="spacingAndGlyphs">PARKING</text>
<text x="1756" y="825" font-size="12" text-anchor="middle" fill="#1c1c1c" font-weight="bold" textLength="43" lengthAdjust="spacingAndGlyphs">STUDENT</text>
<text x="1755" y="840" font-size="12" text-anchor="middle" fill="#1c1c1c" font-weight="bold" textLength="42" lengthAdjust="spacingAndGlyphs">PARKING</text>
<text x="1910" y="909" font-size="10" text-anchor="middle" fill="#1c1c1c" font-weight="bold" textLength="42" lengthAdjust="spacingAndGlyphs">STUDENT</text>
<text x="1910" y="924" font-size="10" text-anchor="middle" fill="#1c1c1c" font-weight="bold" textLength="42" lengthAdjust="spacingAndGlyphs">PARKING</text>
<text x="2125" y="949" font-size="10" text-anchor="middle" fill="#1c1c1c" font-weight="bold" textLength="42" lengthAdjust="spacingAndGlyphs">STUDENT</text>
<text x="2125" y="964" font-size="10" text-anchor="middle" fill="#1c1c1c" font-weight="bold" textLength="42" lengthAdjust="spacingAndGlyphs">PARKING</text>
<text x="2093" y="1134" font-size="10" text-anchor="middle" fill="#1c1c1c" font-weight="bold" textLength="50" lengthAdjust="spacingAndGlyphs">EMPLOYEE</text>
<text x="2088" y="1151" font-size="10" text-anchor="middle" fill="#1c1c1c" font-weight="bold" textLength="42" lengthAdjust="spacingAndGlyphs">PARKING</text>
<text x="2092" y="673" font-size="30" text-anchor="middle" fill="#1c1c1c" textLength="28" lengthAdjust="spacingAndGlyphs">17</text>
<text x="2087" y="692" font-size="9" text-anchor="start" fill="#1c1c1c" font-weight="bold" textLength="62" lengthAdjust="spacingAndGlyphs">DRIVING RANGE /</text>
<text x="2087" y="703" font-size="9" text-anchor="start" fill="#1c1c1c" font-weight="bold" textLength="54" lengthAdjust="spacingAndGlyphs">OBSERVATION</text>
<text x="2089" y="715" font-size="9" text-anchor="start" fill="#1c1c1c" font-weight="bold" textLength="27" lengthAdjust="spacingAndGlyphs">TOWER</text>
<text x="781" y="840" font-size="12" text-anchor="middle" fill="#1c1c1c" font-weight="bold" textLength="93" lengthAdjust="spacingAndGlyphs" transform="rotate(-90 781 840)">STUDENT PARKING</text>
<text class="ser" transform="translate(818.6,1304) rotate(-90)" font-size="27.5" textLength="548" lengthAdjust="spacing">STADIUM DRIVE N.W. 110 STREET</text>
<text x="1240" y="1230" font-size="10" text-anchor="middle" fill="#1c1c1c" font-weight="bold" textLength="38" lengthAdjust="spacingAndGlyphs">VISITOR</text>
<text x="1240" y="1243" font-size="10" text-anchor="middle" fill="#1c1c1c" font-weight="bold" textLength="40" lengthAdjust="spacingAndGlyphs">PARKING</text>
<text x="1122" y="1295" font-size="11" text-anchor="middle" fill="#1c1c1c" font-weight="bold" textLength="58" lengthAdjust="spacingAndGlyphs">EMPLOYEE</text>
<text x="1122" y="1308" font-size="11" text-anchor="middle" fill="#1c1c1c" font-weight="bold" textLength="50" lengthAdjust="spacingAndGlyphs">PARKING</text>
<text x="1552" y="1244" font-size="11" text-anchor="middle" fill="#1c1c1c" font-weight="bold" textLength="52" lengthAdjust="spacingAndGlyphs">EMPLOYEE</text>
<text x="1552" y="1262" font-size="11" text-anchor="middle" fill="#1c1c1c" font-weight="bold" textLength="46" lengthAdjust="spacingAndGlyphs">PARKING</text>
<text x="1235" y="1342" font-size="30" text-anchor="middle" fill="#1c1c1c" textLength="32" lengthAdjust="spacingAndGlyphs">22</text>
<text x="700" y="1446" font-size="13" text-anchor="middle" fill="#1c1c1c" font-weight="bold" textLength="117" lengthAdjust="spacingAndGlyphs">STUDENT PARKING</text>
<text x="533" y="1460" font-size="13" text-anchor="middle" fill="#1c1c1c" font-weight="bold" textLength="68" lengthAdjust="spacingAndGlyphs">EMPLOYEE</text>
<text x="538" y="1477" font-size="13" text-anchor="middle" fill="#1c1c1c" font-weight="bold" textLength="54" lengthAdjust="spacingAndGlyphs">PARKING</text>
<text x="919" y="1475" font-size="13" text-anchor="middle" fill="#1c1c1c" font-weight="bold" textLength="117" lengthAdjust="spacingAndGlyphs">STUDENT PARKING</text>
<text x="1742" y="1510" font-size="10" text-anchor="middle" fill="#1c1c1c" font-weight="bold" textLength="75" lengthAdjust="spacingAndGlyphs">STUDENT PARKING</text>
<text x="2100" y="1354" font-size="10" text-anchor="middle" fill="#1c1c1c" font-weight="bold" textLength="82" lengthAdjust="spacingAndGlyphs">JOGGING TRACK</text>
<text x="449" y="935" font-size="17" text-anchor="start" fill="#1c1c1c" font-weight="bold" textLength="66" lengthAdjust="spacingAndGlyphs">STADIUM</text>
<text x="449" y="958.75" font-size="17" text-anchor="start" fill="#1c1c1c" font-weight="bold" textLength="157.5" lengthAdjust="spacingAndGlyphs">MIAMI-DADE COUNTY</text>
<text x="449" y="981.25" font-size="17" text-anchor="start" fill="#1c1c1c" font-weight="bold" textLength="130" lengthAdjust="spacingAndGlyphs">PUBLIC SCHOOLS</text>
<text x="1872" y="1180" font-size="12" text-anchor="middle" fill="#1c1c1c" font-weight="bold" textLength="34" lengthAdjust="spacingAndGlyphs" transform="rotate(-90 1872 1180)">POOL</text>
<text x="619" y="1698" font-size="24" fill="#141418" stroke="#141418" stroke-width="0.6" text-anchor="start" textLength="8.5" lengthAdjust="spacingAndGlyphs">1</text>
<text x="700" y="1698" font-size="24" fill="#141418" stroke="#141418" stroke-width="0.6" text-anchor="start" textLength="42.5" lengthAdjust="spacingAndGlyphs">1000</text>
<text x="817" y="1698" font-size="24" fill="#141418" stroke="#141418" stroke-width="0.6" text-anchor="start" textLength="194" lengthAdjust="spacingAndGlyphs">PAUL R. SCOTT HALL</text>
<text x="817" y="1723" font-size="24" fill="#141418" stroke="#141418" stroke-width="0.6" text-anchor="start" textLength="281.5" lengthAdjust="spacingAndGlyphs">(Registration &amp; Student  Services)</text>
<text x="619" y="1755.5" font-size="24" fill="#141418" stroke="#141418" stroke-width="0.6" text-anchor="start" textLength="8.5" lengthAdjust="spacingAndGlyphs">2</text>
<text x="700" y="1755.5" font-size="24" fill="#141418" stroke="#141418" stroke-width="0.6" text-anchor="start" textLength="42.5" lengthAdjust="spacingAndGlyphs">2000</text>
<text x="817" y="1755.5" font-size="24" fill="#141418" stroke="#141418" stroke-width="0.6" text-anchor="start" textLength="312.5" lengthAdjust="spacingAndGlyphs">MITCHELL WOLFSON CTR (Library)</text>
<text x="619" y="1783" font-size="24" fill="#141418" stroke="#141418" stroke-width="0.6" text-anchor="start" textLength="8.5" lengthAdjust="spacingAndGlyphs">3</text>
<text x="700" y="1783" font-size="24" fill="#141418" stroke="#141418" stroke-width="0.6" text-anchor="start" textLength="42.5" lengthAdjust="spacingAndGlyphs">3000</text>
<text x="817" y="1783" font-size="24" fill="#141418" stroke="#141418" stroke-width="0.6" text-anchor="start" textLength="154" lengthAdjust="spacingAndGlyphs">McARTHUR HALL</text>
<text x="619" y="1810.5" font-size="24" fill="#141418" stroke="#141418" stroke-width="0.6" text-anchor="start" textLength="8.5" lengthAdjust="spacingAndGlyphs">4</text>
<text x="700" y="1810.5" font-size="24" fill="#141418" stroke="#141418" stroke-width="0.6" text-anchor="start" textLength="42.5" lengthAdjust="spacingAndGlyphs">4000</text>
<text x="817" y="1810.5" font-size="24" fill="#141418" stroke="#141418" stroke-width="0.6" text-anchor="start" textLength="381" lengthAdjust="spacingAndGlyphs">LEROY COLLINS CTR (Cafeteria/ Bookstore)</text>
<text x="619" y="1838" font-size="24" fill="#141418" stroke="#141418" stroke-width="0.6" text-anchor="start" textLength="8.5" lengthAdjust="spacingAndGlyphs">5</text>
<text x="700" y="1838" font-size="24" fill="#141418" stroke="#141418" stroke-width="0.6" text-anchor="start" textLength="42.5" lengthAdjust="spacingAndGlyphs">5000</text>
<text x="817" y="1838" font-size="24" fill="#141418" stroke="#141418" stroke-width="0.6" text-anchor="start" textLength="286" lengthAdjust="spacingAndGlyphs">WILLIAM PAWLEY CTR (Theater)</text>
<text x="619" y="1865.5" font-size="24" fill="#141418" stroke="#141418" stroke-width="0.6" text-anchor="start" textLength="8.5" lengthAdjust="spacingAndGlyphs">6</text>
<text x="700" y="1865.5" font-size="24" fill="#141418" stroke="#141418" stroke-width="0.6" text-anchor="start" textLength="42.5" lengthAdjust="spacingAndGlyphs">6000</text>
<text x="817" y="1865.5" font-size="24" fill="#141418" stroke="#141418" stroke-width="0.6" text-anchor="start" textLength="300" lengthAdjust="spacingAndGlyphs">DEVELOPMENTAL. STUDIES CTR</text>
<text x="619" y="1893" font-size="24" fill="#141418" stroke="#141418" stroke-width="0.6" text-anchor="start" textLength="8.5" lengthAdjust="spacingAndGlyphs">7</text>
<text x="700" y="1893" font-size="24" fill="#141418" stroke="#141418" stroke-width="0.6" text-anchor="start" textLength="42.5" lengthAdjust="spacingAndGlyphs">7000</text>
<text x="817" y="1893" font-size="24" fill="#141418" stroke="#141418" stroke-width="0.6" text-anchor="start" textLength="222" lengthAdjust="spacingAndGlyphs">GARTH C. REEVES HALL</text>
<text x="619" y="1920.5" font-size="24" fill="#141418" stroke="#141418" stroke-width="0.6" text-anchor="start" textLength="8.5" lengthAdjust="spacingAndGlyphs">8</text>
<text x="700" y="1920.5" font-size="24" fill="#141418" stroke="#141418" stroke-width="0.6" text-anchor="start" textLength="42.5" lengthAdjust="spacingAndGlyphs">8000</text>
<text x="817" y="1920.5" font-size="24" fill="#141418" stroke="#141418" stroke-width="0.6" text-anchor="start" textLength="255" lengthAdjust="spacingAndGlyphs">SCHOOL OF JUSTICE BLDG.</text>
<text x="1285" y="1698" font-size="24" fill="#141418" stroke="#141418" stroke-width="0.6" text-anchor="start" textLength="9" lengthAdjust="spacingAndGlyphs">9</text>
<text x="1365" y="1698" font-size="24" fill="#141418" stroke="#141418" stroke-width="0.6" text-anchor="start" textLength="42.5" lengthAdjust="spacingAndGlyphs">9000</text>
<text x="1482.5" y="1698" font-size="24" fill="#141418" stroke="#141418" stroke-width="0.6" text-anchor="start" textLength="255" lengthAdjust="spacingAndGlyphs">SCHOOL OF JUSTICE BLDG.</text>
<text x="1282.5" y="1727" font-size="24" fill="#141418" stroke="#141418" stroke-width="0.6" text-anchor="start" textLength="21.5" lengthAdjust="spacingAndGlyphs">10</text>
<text x="1365" y="1727" font-size="24" fill="#141418" stroke="#141418" stroke-width="0.6" text-anchor="start" textLength="31" lengthAdjust="spacingAndGlyphs">100</text>
<text x="1482.5" y="1727" font-size="24" fill="#141418" stroke="#141418" stroke-width="0.6" text-anchor="start" textLength="170" lengthAdjust="spacingAndGlyphs">FIRE SCIENCE LAB</text>
<text x="1282.5" y="1755.5" font-size="24" fill="#141418" stroke="#141418" stroke-width="0.6" text-anchor="start" textLength="21.5" lengthAdjust="spacingAndGlyphs">11</text>
<text x="1365" y="1755.5" font-size="24" fill="#141418" stroke="#141418" stroke-width="0.6" text-anchor="start" textLength="18" lengthAdjust="spacingAndGlyphs">"K"</text>
<text x="1482.5" y="1755.5" font-size="24" fill="#141418" stroke="#141418" stroke-width="0.6" text-anchor="start" textLength="202.5" lengthAdjust="spacingAndGlyphs">FIRE SCI. BURN BLDG.</text>
<text x="1282.5" y="1783" font-size="24" fill="#141418" stroke="#141418" stroke-width="0.6" text-anchor="start" textLength="21.5" lengthAdjust="spacingAndGlyphs">12</text>
<text x="1365" y="1783" font-size="24" fill="#141418" stroke="#141418" stroke-width="0.6" text-anchor="start" textLength="31" lengthAdjust="spacingAndGlyphs">200</text>
<text x="1482.5" y="1783" font-size="24" fill="#141418" stroke="#141418" stroke-width="0.6" text-anchor="start" textLength="207.5" lengthAdjust="spacingAndGlyphs">FIRE SCIENCE TOWER</text>
<text x="1282.5" y="1809.5" font-size="24" fill="#141418" stroke="#141418" stroke-width="0.6" text-anchor="start" textLength="21.5" lengthAdjust="spacingAndGlyphs">13</text>
<text x="1365" y="1809.5" font-size="24" fill="#141418" stroke="#141418" stroke-width="0.6" text-anchor="start" textLength="31" lengthAdjust="spacingAndGlyphs">300</text>
<text x="1482.5" y="1809.5" font-size="24" fill="#141418" stroke="#141418" stroke-width="0.6" text-anchor="start" textLength="91.5" lengthAdjust="spacingAndGlyphs">300 BLDG.</text>
<text x="1282.5" y="1836.5" font-size="24" fill="#141418" stroke="#141418" stroke-width="0.6" text-anchor="start" textLength="21.5" lengthAdjust="spacingAndGlyphs">14</text>
<text x="1365" y="1836.5" font-size="24" fill="#141418" stroke="#141418" stroke-width="0.6" text-anchor="start" textLength="31" lengthAdjust="spacingAndGlyphs">400</text>
<text x="1482.5" y="1836.5" font-size="24" fill="#141418" stroke="#141418" stroke-width="0.6" text-anchor="start" textLength="270" lengthAdjust="spacingAndGlyphs">JOHN F. KENNEDY CTR (Gym)</text>
<text x="1282.5" y="1863" font-size="24" fill="#141418" stroke="#141418" stroke-width="0.6" text-anchor="start" textLength="21.5" lengthAdjust="spacingAndGlyphs">15</text>
<text x="1365" y="1863" font-size="24" fill="#141418" stroke="#141418" stroke-width="0.6" text-anchor="start" textLength="31" lengthAdjust="spacingAndGlyphs">500</text>
<text x="1482.5" y="1863" font-size="24" fill="#141418" stroke="#141418" stroke-width="0.6" text-anchor="start" textLength="166.5" lengthAdjust="spacingAndGlyphs">AQUATIC CENTER</text>
<text x="1282.5" y="1890.5" font-size="24" fill="#141418" stroke="#141418" stroke-width="0.6" text-anchor="start" textLength="21.5" lengthAdjust="spacingAndGlyphs">16</text>
<text x="1365" y="1890.5" font-size="24" fill="#141418" stroke="#141418" stroke-width="0.6" text-anchor="start" textLength="31" lengthAdjust="spacingAndGlyphs">600</text>
<text x="1482.5" y="1890.5" font-size="24" fill="#141418" stroke="#141418" stroke-width="0.6" text-anchor="start" textLength="163.5" lengthAdjust="spacingAndGlyphs">PRE-SCHOOL LAB</text>
<text x="1282.5" y="1918" font-size="24" fill="#141418" stroke="#141418" stroke-width="0.6" text-anchor="start" textLength="21.5" lengthAdjust="spacingAndGlyphs">17</text>
<text x="1365" y="1918" font-size="24" fill="#141418" stroke="#141418" stroke-width="0.6" text-anchor="start" textLength="21.5" lengthAdjust="spacingAndGlyphs">17</text>
<text x="1482.5" y="1918" font-size="24" fill="#141418" stroke="#141418" stroke-width="0.6" text-anchor="start" textLength="160" lengthAdjust="spacingAndGlyphs">DRIVING RANGE /</text>
<text x="1482.5" y="1945.5" font-size="24" fill="#141418" stroke="#141418" stroke-width="0.6" text-anchor="start" textLength="211.5" lengthAdjust="spacingAndGlyphs">OBSERVATION TOWER</text>
<text x="1855.5" y="1697" font-size="24" fill="#141418" stroke="#141418" stroke-width="0.6" text-anchor="start" textLength="21.5" lengthAdjust="spacingAndGlyphs">19</text>
<text x="1935.5" y="1697" font-size="24" fill="#141418" stroke="#141418" stroke-width="0.6" text-anchor="start" textLength="32" lengthAdjust="spacingAndGlyphs">900</text>
<text x="2053" y="1697" font-size="24" fill="#141418" stroke="#141418" stroke-width="0.6" text-anchor="start" textLength="212.5" lengthAdjust="spacingAndGlyphs">PLANT MAINTENTANCE</text>
<text x="1859" y="1724" font-size="24" fill="#141418" stroke="#141418" stroke-width="0.6" text-anchor="start" textLength="21.5" lengthAdjust="spacingAndGlyphs">20</text>
<text x="1940.5" y="1724" font-size="24" fill="#141418" stroke="#141418" stroke-width="0.6" text-anchor="start" textLength="21.5" lengthAdjust="spacingAndGlyphs">20</text>
<text x="2058" y="1724" font-size="24" fill="#141418" stroke="#141418" stroke-width="0.6" text-anchor="start" textLength="447.5" lengthAdjust="spacingAndGlyphs">ENVIRONMENTAL SCIENCE TECHNOLOGY BLDG.</text>
<text x="1859" y="1756.5" font-size="24" fill="#141418" stroke="#141418" stroke-width="0.6" text-anchor="start" textLength="21.5" lengthAdjust="spacingAndGlyphs">22</text>
<text x="1940.5" y="1756.5" font-size="24" fill="#141418" stroke="#141418" stroke-width="0.6" text-anchor="start" textLength="21.5" lengthAdjust="spacingAndGlyphs">22</text>
<text x="2058" y="1756.5" font-size="24" fill="#141418" stroke="#141418" stroke-width="0.6" text-anchor="start" textLength="202.5" lengthAdjust="spacingAndGlyphs">INFORMATION BOOTH</text>
<text x="1859" y="1789.5" font-size="24" fill="#141418" stroke="#141418" stroke-width="0.6" text-anchor="start" textLength="21.5" lengthAdjust="spacingAndGlyphs">28</text>
<text x="1940.5" y="1789.5" font-size="24" fill="#141418" stroke="#141418" stroke-width="0.6" text-anchor="start" textLength="21.5" lengthAdjust="spacingAndGlyphs">28</text>
<text x="2058" y="1789.5" font-size="24" fill="#141418" stroke="#141418" stroke-width="0.6" text-anchor="start" textLength="170" lengthAdjust="spacingAndGlyphs">TENNIS PAVILLION</text>
<text x="1863" y="1819.5" font-size="24" fill="#141418" stroke="#141418" stroke-width="0.6" text-anchor="start" textLength="21.5" lengthAdjust="spacingAndGlyphs">33</text>
<text x="1940.5" y="1819.5" font-size="24" fill="#141418" stroke="#141418" stroke-width="0.6" text-anchor="start" textLength="60" lengthAdjust="spacingAndGlyphs">3000-A</text>
<text x="2058" y="1819.5" font-size="24" fill="#141418" stroke="#141418" stroke-width="0.6" text-anchor="start" textLength="290" lengthAdjust="spacingAndGlyphs">FUNERAL SCIENCE EDUCATION</text>
<text x="1863" y="1852" font-size="24" fill="#141418" stroke="#141418" stroke-width="0.6" text-anchor="start" textLength="12.5" lengthAdjust="spacingAndGlyphs">A</text>
<text x="2058" y="1852" font-size="24" fill="#141418" stroke="#141418" stroke-width="0.6" text-anchor="start" textLength="179" lengthAdjust="spacingAndGlyphs">SCIENCE COMPLEX</text>
<circle cx="2090.5" cy="1518.6" r="55.6" fill="none" stroke="#b3283f" stroke-width="3.7"/>
<rect x="2091.5" y="1513.5" width="54.5" height="11.7" fill="#b3283f"/>
<text x="2095.25" y="1448.6" font-size="31" fill="#141418" stroke="#141418" stroke-width="0.6" text-anchor="middle" textLength="23.5" lengthAdjust="spacingAndGlyphs">W</text>
<text x="2013.7" y="1530" font-size="31" fill="#141418" stroke="#141418" stroke-width="0.6" text-anchor="middle" textLength="14.6" lengthAdjust="spacingAndGlyphs">S</text>
<text x="2096" y="1613.8" font-size="31" fill="#141418" stroke="#141418" stroke-width="0.6" text-anchor="middle" textLength="14.7" lengthAdjust="spacingAndGlyphs">E</text>
<text x="2163.5" y="1529.4" font-size="31" fill="#141418" stroke="#141418" stroke-width="0.6" text-anchor="start" textLength="90" lengthAdjust="spacingAndGlyphs">NORTH</text>
<path d="M1301,749 C1297.8,745.2 1288.7,730.7 1282,726 C1275.3,721.3 1270.2,720.7 1261,721 C1251.8,721.3 1236.8,723.3 1227,728 C1217.2,732.7 1211.8,739.2 1202,749 C1192.2,758.8 1176.2,777.2 1168,787 C1159.8,796.8 1159.0,792.2 1153,808 C1147.0,823.8 1132.7,857.2 1132,882 C1131.3,906.8 1138.5,937.5 1149,957 C1159.5,976.5 1176.7,991.7 1195,999 C1213.3,1006.3 1237.8,1006.3 1259,1001 C1280.2,995.7 1304.3,981.5 1322,967 C1339.7,952.5 1354.0,937.0 1365,914 C1376.0,891.0 1386.3,855.5 1388,829 C1389.7,802.5 1382.3,776.2 1375,755 C1367.7,733.8 1355.2,712.0 1344,702 C1332.8,692.0 1322.2,694.2 1308,695 C1293.8,695.8 1276.0,699.5 1259,707 C1242.0,714.5 1221.2,726.7 1206,740 C1190.8,753.3 1174.3,779.2 1168,787" fill="none" stroke="#1e1e22" stroke-width="3.2" stroke-linecap="round"/>
</svg>
</body></html>
